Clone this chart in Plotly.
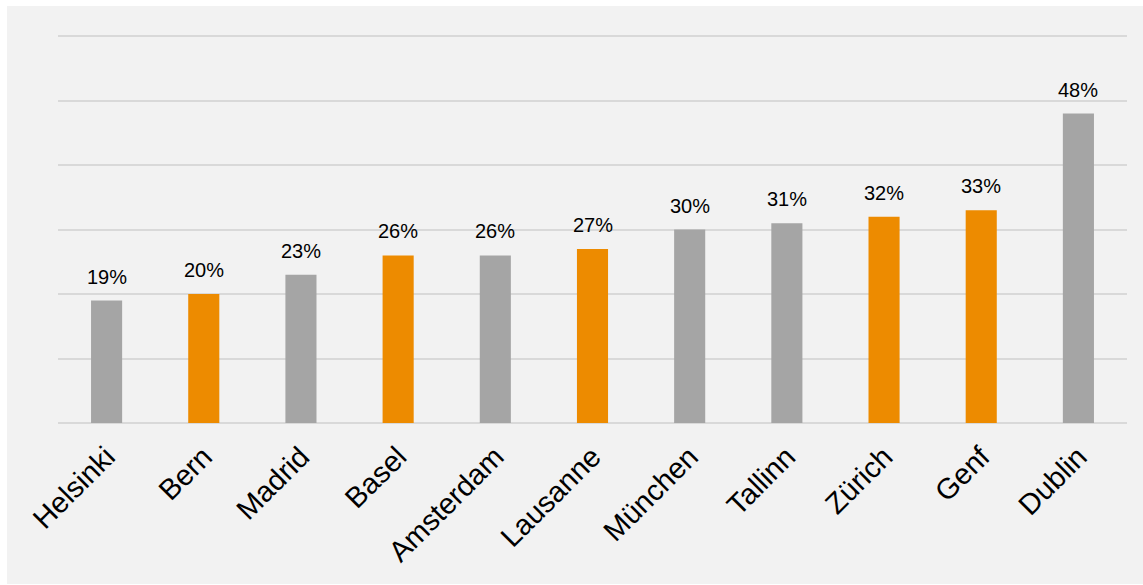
import plotly.graph_objects as go

cities = ["Helsinki", "Bern", "Madrid", "Basel", "Amsterdam", "Lausanne",
          "München", "Tallinn", "Zürich", "Genf", "Dublin"]
values = [19, 20, 23, 26, 26, 27, 30, 31, 32, 33, 48]
swiss = [False, True, False, True, False, True, False, False, True, True, False]

GRAY = "#a5a5a5"
ORANGE = "#ed8b00"
colors = [ORANGE if s else GRAY for s in swiss]

fig = go.Figure()
fig.add_trace(go.Bar(x=cities, y=values, marker_color=colors, marker_line_width=0))

for c, v in zip(cities, values):
    fig.add_annotation(x=c, y=v, text=f"{v}%", showarrow=False, yanchor="bottom",
                       yshift=11, font=dict(family="Liberation Sans, Arial", size=20, color="#000000"))

fig.update_layout(
    width=1143, height=585,
    margin=dict(l=58, r=16, t=33, b=162),
    paper_bgcolor="#f2f2f2", plot_bgcolor="#f2f2f2",
    bargap=0.68, showlegend=False,
    font=dict(family="Liberation Sans, Arial", color="#000000"),
)
fig.update_yaxes(range=[0, 60.5], dtick=10, showticklabels=False, gridcolor="#d9d9d9",
                 gridwidth=1.5, zeroline=True, zerolinecolor="#d9d9d9", zerolinewidth=2,
                 showline=False)
fig.update_xaxes(tickangle=-45, tickfont=dict(size=29), showline=False, showgrid=False,
                 ticks="", ticklabelstandoff=10)
# white outer border like reference
fig.add_shape(type="rect", xref="paper", yref="paper", x0=-0.1, x1=1.1, y0=1 + 27/390, y1=1 + 40/390,
              fillcolor="white", line_width=0, layer="below")
fig.add_shape(type="rect", xref="paper", yref="paper", x0=-58/1069 - 0.01, x1=-51/1069, y0=-1, y1=2,
              fillcolor="white", line_width=0, layer="below")
fig.add_shape(type="rect", xref="paper", yref="paper", x0=-0.1, x1=1.1, y0=-162/390 - 0.01, y1=-161/390,
              fillcolor="white", line_width=0, layer="below")

fig.write_html("out.html")
